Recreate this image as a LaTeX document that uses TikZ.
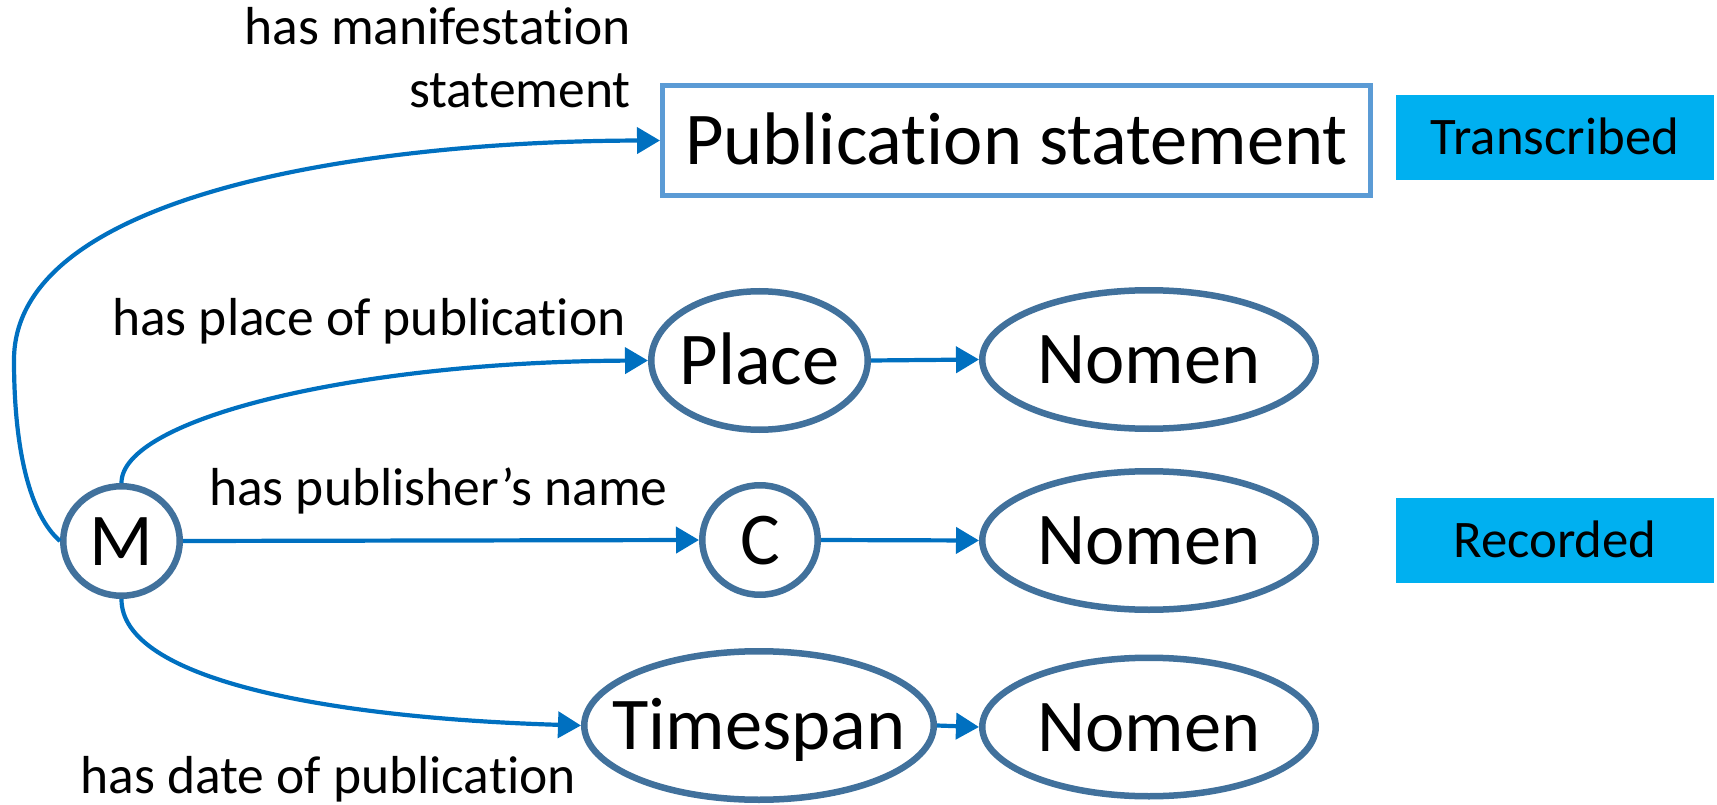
\documentclass[tikz,border=0pt]{standalone}
\usepackage{fontspec}
\setmainfont[Ligatures=NoCommon,Contextuals=NoAlternate]{Carlito}
\usetikzlibrary{shapes.geometric,arrows.meta}
\definecolor{entc}{RGB}{65,113,156}
\definecolor{relc}{RGB}{0,112,192}
\definecolor{pubc}{RGB}{91,155,213}
\definecolor{tagc}{RGB}{0,176,240}
\newcommand{\zwbox}[1]{\makebox[0pt][c]{#1}}
\begin{document}
\begin{tikzpicture}[x=1pt,y=-1pt,
  ent/.style={ellipse, draw=entc, line width=6.5pt, inner sep=0pt, fill=white,
    font=\fontsize{74.5}{82}\selectfont, text height=48pt, text depth=0pt},
  pubbox/.style={rectangle, draw=pubc, line width=5pt, inner sep=0pt, fill=white,
    minimum width=708pt, minimum height=110pt,
    font=\fontsize{74.5}{82}\selectfont, text height=48pt, text depth=0pt},
  rel/.style={draw=relc, line width=4.2pt, -{Triangle[length=23pt,width=26pt]}},
  plain/.style={draw=relc, line width=4.2pt},
  lbl/.style={font=\fontsize{53.5}{64}\selectfont, inner sep=0pt},
  tag/.style={rectangle, fill=tagc, inner sep=0pt, minimum width=318pt, minimum height=85pt,
    font=\fontsize{52.8}{62}\selectfont, text height=34pt, text depth=0pt}
]
\useasboundingbox (0,0) rectangle (1717,805);

% nodes
\node[pubbox] (pub) at (1016.5,140.5) {Publication statement};
\node[tag] (trans) at (1555,137.5) {Transcribed};
\node[tag] (rec) at (1555,540.5) {Recorded};

\node[ent, minimum width=116.5pt, minimum height=109.5pt] (M) at (121.5,541) {\zwbox{M}};
\node[ent, minimum width=216.5pt, minimum height=138.5pt] (place) at (759.5,360.5) {\zwbox{Place}};
\node[ent, minimum width=115.5pt, minimum height=109.5pt] (C) at (760,540) {\zwbox{C}};
\node[ent, minimum width=349.5pt, minimum height=148.5pt] (time) at (759,725.5) {\zwbox{Timespan}};
\node[ent, minimum width=333.5pt, minimum height=138.5pt] (nom1) at (1149,359.5) {\zwbox{Nomen}};
\node[ent, minimum width=333.5pt, minimum height=138.5pt] (nom2) at (1149,540.5) {\zwbox{Nomen}};
\node[ent, minimum width=333.5pt, minimum height=138.5pt] (nom3) at (1149,727) {\zwbox{Nomen}};

% labels
\node[lbl, anchor=base east] (l1a) at (631,45) {has manifestation};
\node[lbl, anchor=base east] (l1b) at (631,108) {statement};
\node[lbl, anchor=base west] (l2) at (112,335) {has place of publication};
\node[lbl, anchor=base west] (l3) at (209,505) {has publisher’s name};
\node[lbl, anchor=base east] (l4) at (576,793) {has date of publication};

% connectors
\coordinate (bend) at (14,360);
\draw[plain] (M.west) .. controls (30,515) and (14,450) .. (bend);
\draw[rel] (bend) .. controls (14,190) and (380,141) .. (pub.west);
\draw[rel] (M.north) .. controls (121,420) and (350,362) .. (place.west);
\draw[rel] (M.east) -- (C.west);
\draw[rel] (M.south) .. controls (121,680) and (330,718) .. (time.west);
\draw[rel] (place.east) -- (nom1.west);
\draw[rel] (C.east) -- (nom2.west);
\draw[rel] (time.east) -- (nom3.west);
\end{tikzpicture}
\end{document}
